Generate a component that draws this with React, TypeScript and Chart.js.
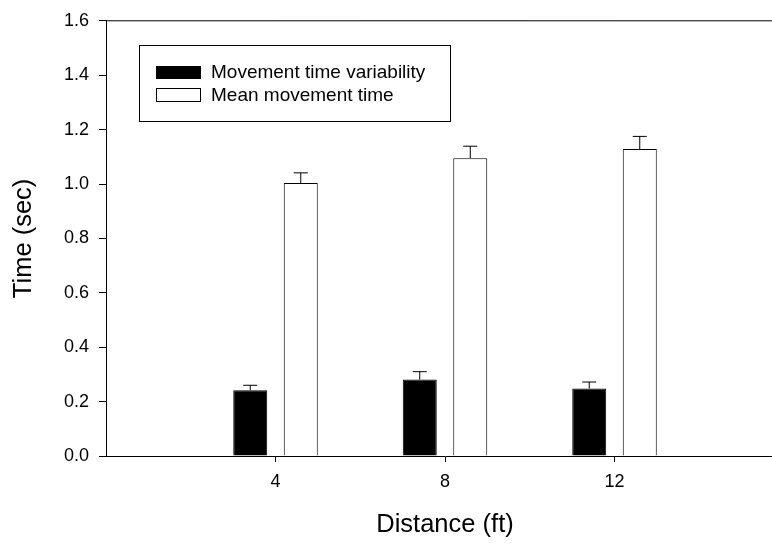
import React, { useEffect, useRef } from 'react';
import { Chart, registerables } from 'chart.js';

Chart.register(...registerables);

const distances = [4, 8, 12];
const variabilityMeans = [0.242, 0.281, 0.248];
const variabilityErrors = [0.018, 0.029, 0.024];
const movementMeans = [1.004, 1.095, 1.129];
const movementErrors = [0.037, 0.044, 0.046];
const seriesLabels = ['Movement time variability', 'Mean movement time'];
const xTickValues = [4, 8, 12];
const yTickValues = [0, 0.2, 0.4, 0.6, 0.8, 1.0, 1.2, 1.4, 1.6];
const xRange = [0, 16];
const yRange = [0, 1.6];
const xTitle = 'Distance (ft)';
const yTitle = 'Time (sec)';

const FONT = '"Liberation Sans", Arial, Helvetica, sans-serif';

const errorBarPlugin = {
  id: 'errorBars',
  afterDatasetsDraw(chart: any) {
    const ctx = chart.ctx;
    const yScale = chart.scales.y;
    chart.data.datasets.forEach((ds: any, di: number) => {
      const meta = chart.getDatasetMeta(di);
      meta.data.forEach((el: any, i: number) => {
        const x = el.x;
        const yTop = el.y;
        const yErr = yScale.getPixelForValue(ds.data[i].y + ds.errors[i]);
        ctx.save();
        ctx.strokeStyle = '#000';
        ctx.lineWidth = 1;
        ctx.beginPath();
        ctx.moveTo(x, yTop);
        ctx.lineTo(x, yErr);
        ctx.moveTo(x - 7, yErr);
        ctx.lineTo(x + 7, yErr);
        ctx.stroke();
        ctx.restore();
      });
    });
  },
};

const frameAndLegendPlugin = {
  id: 'frameAndLegend',
  afterDraw(chart: any) {
    const ctx = chart.ctx;
    const area = chart.chartArea;
    ctx.save();
    ctx.strokeStyle = '#000';
    ctx.lineWidth = 1;
    ctx.beginPath();
    ctx.moveTo(area.left, area.top);
    ctx.lineTo(area.right, area.top);
    ctx.stroke();

    const bx = 139.5, by = 45.5, bw = 311, bh = 76;
    ctx.strokeStyle = '#000';
    ctx.strokeRect(bx, by, bw, bh);
    const ds = chart.data.datasets;
    ctx.font = `19px ${FONT}`;
    ctx.textBaseline = 'alphabetic';
    ctx.textAlign = 'left';
    ctx.fillStyle = '#000';
    ctx.fillRect(156, 66, 45, 13);
    ctx.fillText(ds[0].label, 211, 78);
    ctx.fillStyle = '#fff';
    ctx.fillRect(156.5, 88.5, 44, 13);
    ctx.strokeRect(156.5, 88.5, 44, 13);
    ctx.fillStyle = '#000';
    ctx.fillText(ds[1].label, 211, 101);
    ctx.restore();
  },
};

export default function App() {
  const canvasRef = useRef<HTMLCanvasElement | null>(null);

  useEffect(() => {
    if (!canvasRef.current) return;
    const chart = new Chart(canvasRef.current, {
      type: 'bar',
      data: {
        datasets: [
          {
            label: seriesLabels[0],
            data: distances.map((d, i) => ({ x: d, y: variabilityMeans[i] })),
            errors: variabilityErrors,
            backgroundColor: '#000',
            borderColor: '#000',
            borderWidth: 1,
          } as any,
          {
            label: seriesLabels[1],
            data: distances.map((d, i) => ({ x: d, y: movementMeans[i] })),
            errors: movementErrors,
            backgroundColor: '#fff',
            borderColor: '#000',
            borderWidth: 1,
          } as any,
        ],
      },
      options: {
        animation: false,
        responsive: false,
        maintainAspectRatio: false,
        categoryPercentage: 0.596,
        barPercentage: 0.673,
        layout: { padding: { top: 19, left: 0, right: 0, bottom: 0 } },
        plugins: {
          legend: { display: false },
          tooltip: { enabled: false },
        },
        scales: {
          x: {
            type: 'linear',
            min: xRange[0],
            max: xRange[1],
            offset: false,
            afterFit: (scale: any) => {
              scale.height = 88;
            },
            afterBuildTicks: (scale: any) => {
              scale.ticks = xTickValues.map((v) => ({ value: v }));
            },
            grid: {
              display: true,
              drawOnChartArea: false,
              drawTicks: true,
              tickLength: 6,
              color: '#000',
              offset: false,
            },
            border: { display: true, color: '#000', width: 1 },
            ticks: {
              color: '#000',
              font: { family: FONT, size: 18 },
              padding: 9,
              maxRotation: 0,
              callback: (v: any) => String(v),
            },
            title: {
              display: true,
              text: xTitle,
              color: '#000',
              font: { family: FONT, size: 25.5 },
              padding: { top: 0, bottom: 3.5 },
            },
          },
          y: {
            type: 'linear',
            min: yRange[0],
            max: yRange[1],
            afterFit: (scale: any) => {
              scale.width = 106;
            },
            afterBuildTicks: (scale: any) => {
              scale.ticks = yTickValues.map((v) => ({ value: v }));
            },
            grid: {
              display: true,
              drawOnChartArea: false,
              drawTicks: true,
              tickLength: 7,
              color: '#000',
            },
            border: { display: true, color: '#000', width: 1 },
            ticks: {
              color: '#000',
              font: { family: FONT, size: 18 },
              padding: 10,
              callback: (v: any) => Number(v).toFixed(1),
            },
            title: {
              display: true,
              text: yTitle,
              color: '#000',
              font: { family: FONT, size: 25.5 },
              padding: { top: 9, bottom: 0 },
            },
          },
        },
      } as any,
      plugins: [errorBarPlugin, frameAndLegendPlugin],
    });
    return () => chart.destroy();
  }, []);

  return (
    <div
      style={{
        position: 'fixed',
        left: 0,
        top: 0,
        width: 772,
        height: 544,
        overflow: 'hidden',
        background: '#fff',
      }}
    >
      <canvas ref={canvasRef} width={784} height={544} style={{ display: 'block' }} />
    </div>
  );
}
